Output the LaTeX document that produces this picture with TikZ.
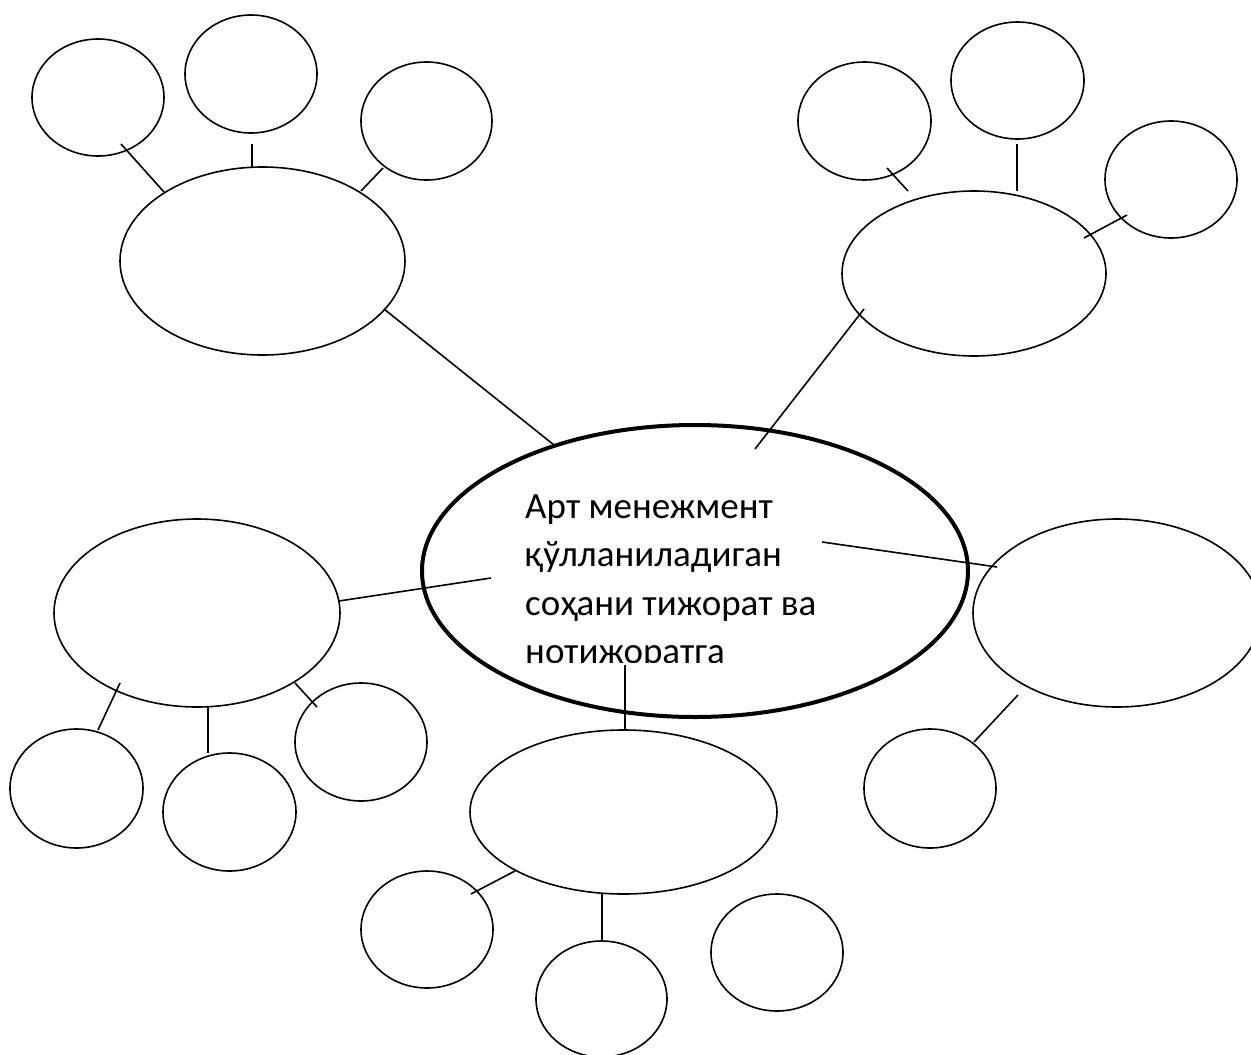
\documentclass[tikz,border=0pt]{standalone}
\usepackage{fontspec}
\setmainfont{Carlito}
\usetikzlibrary{shapes.geometric}
\tikzset{
  bub/.style={ellipse, draw, line width=1.6pt, inner sep=0pt, outer sep=0pt},
  hub/.style={ellipse, draw, line width=4pt, inner sep=0pt, outer sep=0pt},
  link/.style={line width=1.6pt},
  lbl/.style={anchor=base west, inner sep=0pt, font=\fontsize{37}{44}\selectfont},
}
\begin{document}
\begin{tikzpicture}[x=1pt, y=-1pt]
\fill[white] (0,0) rectangle (1251,1055);
\useasboundingbox (0,0) rectangle (1251,1055);
% top-left group
\node[bub, minimum width=132pt, minimum height=117pt] (tl1) at (98,97.5) {};
\node[bub, minimum width=132pt, minimum height=118pt] (tl2) at (251,74) {};
\node[bub, minimum width=131pt, minimum height=118pt] (tl3) at (426.5,121) {};
\node[bub, minimum width=285pt, minimum height=188pt] (tl) at (262.5,261) {};
% top-right group
\node[bub, minimum width=133pt, minimum height=118pt] (tr1) at (864.5,121) {};
\node[bub, minimum width=133pt, minimum height=117pt] (tr2) at (1017.5,80.5) {};
\node[bub, minimum width=132pt, minimum height=117pt] (tr3) at (1171,179.5) {};
\node[bub, minimum width=264pt, minimum height=165pt] (tr) at (974,273.5) {};
% centre
\node[hub, minimum width=546pt, minimum height=292pt] (c) at (695,571) {};
% left group
\node[bub, minimum width=286pt, minimum height=188pt] (l) at (197,613) {};
\node[bub, minimum width=133pt, minimum height=119pt] (l1) at (76.5,788.5) {};
\node[bub, minimum width=133pt, minimum height=118pt] (l2) at (229.5,812) {};
\node[bub, minimum width=132pt, minimum height=118pt] (l3) at (361,742) {};
% right group
\node[bub, minimum width=288pt, minimum height=188pt] (r) at (1117,613) {};
\node[bub, minimum width=132pt, minimum height=119pt] (r1) at (930,788.5) {};
% bottom group
\node[bub, minimum width=307pt, minimum height=164pt] (b) at (623.5,812) {};
\node[bub, minimum width=132pt, minimum height=117pt] (b1) at (427,929.5) {};
\node[bub, minimum width=131pt, minimum height=116pt] (b2) at (601.5,999) {};
\node[bub, minimum width=132pt, minimum height=117pt] (b3) at (777,952.5) {};
% connector end points
\coordinate (p1a) at (121,144);  \coordinate (p1b) at (164,192);
\coordinate (p2a) at (252,144);  \coordinate (p2b) at (252,168);
\coordinate (p3a) at (383,168);  \coordinate (p3b) at (361,191);
\coordinate (p4a) at (384,309);  \coordinate (p4b) at (554,445);
\coordinate (q1a) at (887,168);  \coordinate (q1b) at (908,191);
\coordinate (q2a) at (1017,144); \coordinate (q2b) at (1017,191);
\coordinate (q3a) at (1127,215); \coordinate (q3b) at (1084,238);
\coordinate (q4a) at (864,309);  \coordinate (q4b) at (755,449);
\coordinate (ca) at (491,578);   \coordinate (cb) at (339,601);
\coordinate (cc) at (822,542);   \coordinate (cd) at (997,567);
\coordinate (ce) at (625,665);   \coordinate (cf) at (625,730);
\coordinate (s1a) at (120,683);  \coordinate (s1b) at (98,730);
\coordinate (s2a) at (208,707);  \coordinate (s2b) at (208,753);
\coordinate (s3a) at (295,683);  \coordinate (s3b) at (317,707);
\coordinate (ra) at (1018,695);  \coordinate (rb) at (974,742);
\coordinate (u1a) at (515,871);  \coordinate (u1b) at (471,894);
\coordinate (u2a) at (602,894);  \coordinate (u2b) at (602,941);
\draw[link] (p1a) -- (p1b);
\draw[link] (p2a) -- (p2b);
\draw[link] (p3a) -- (p3b);
\draw[link] (p4a) -- (p4b);
\draw[link] (q1a) -- (q1b);
\draw[link] (q2a) -- (q2b);
\draw[link] (q3a) -- (q3b);
\draw[link] (q4a) -- (q4b);
\draw[link] (ca) -- (cb);
\draw[link] (cc) -- (cd);
\draw[link] (ce) -- (cf);
\draw[link] (s1a) -- (s1b);
\draw[link] (s2a) -- (s2b);
\draw[link] (s3a) -- (s3b);
\draw[link] (ra) -- (rb);
\draw[link] (u1a) -- (u1b);
\draw[link] (u2a) -- (u2b);
% text
\node[lbl] (t1) at (525,518) {Арт менежмент};
\node[lbl] (t2) at (525,566.7) {қўлланиладиган};
\node[lbl] (t3) at (525,615.3) {соҳани тижорат ва};
\begin{scope}
\clip (500,620) rectangle (900,662.5);
\node[lbl] (t4) at (525,663.5) {нотижоратга};
\end{scope}
\end{tikzpicture}
\end{document}
